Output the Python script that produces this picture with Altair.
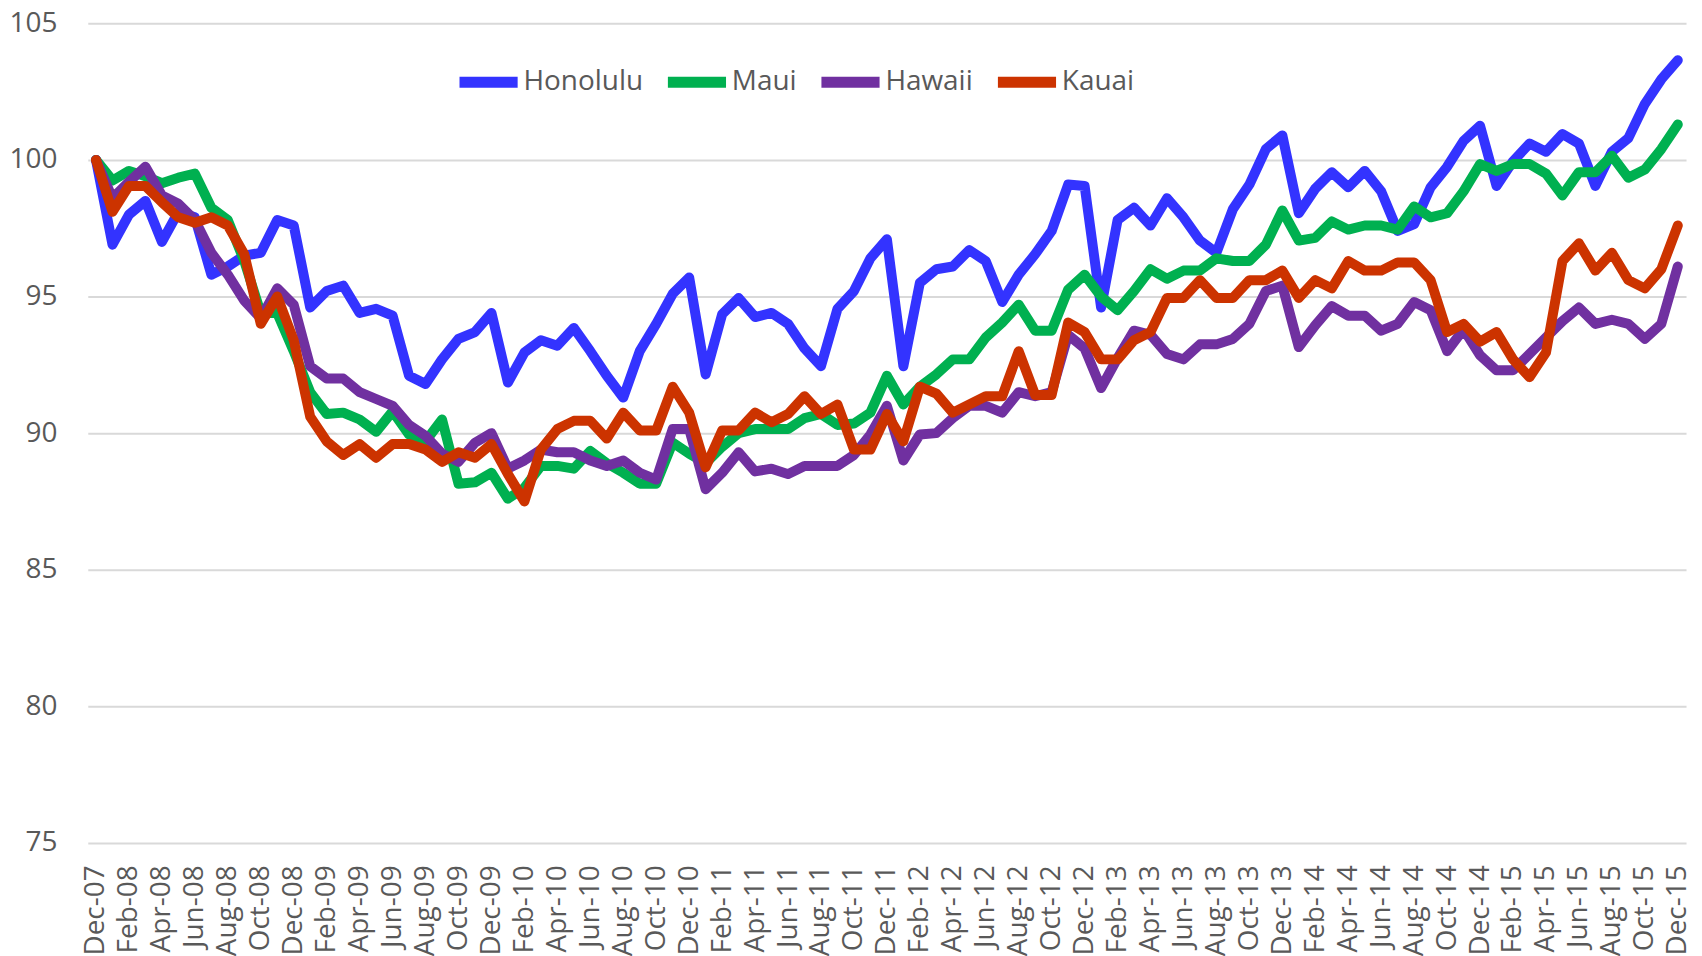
import altair as alt
import pandas as pd

months = pd.date_range("2007-12-01", "2015-12-01", freq="MS").strftime("%b-%y").tolist()

series_names = ["Honolulu", "Maui", "Hawaii", "Kauai"]
series_colors = ["#3333FF", "#00B050", "#7030A0", "#CC3300"]

honolulu = [100.0, 96.9, 98.0, 98.5, 97.0, 98.1, 97.9, 95.8, 96.1, 96.5,
            96.6, 97.8, 97.6, 94.6, 95.2, 95.4, 94.4, 94.55, 94.3, 92.1,
            91.8, 92.7, 93.45, 93.7, 94.4, 91.85, 92.95, 93.4, 93.2, 93.85,
            93.0, 92.1, 91.3, 93.0, 94.0, 95.1, 95.7, 92.15, 94.35, 94.95,
            94.25, 94.4, 94.0, 93.1, 92.45, 94.55, 95.2, 96.4, 97.1, 92.45,
            95.5, 96.0, 96.1, 96.7, 96.3, 94.8, 95.8, 96.55, 97.4, 99.1,
            99.05, 94.6, 97.8, 98.25, 97.6, 98.6, 97.9, 97.05, 96.6, 98.2,
            99.1, 100.4, 100.9, 98.05, 98.95, 99.55, 99.0, 99.6, 98.85, 97.4,
            97.65, 99.0, 99.75, 100.7, 101.25, 99.05, 99.95, 100.6, 100.3, 100.95,
            100.6, 99.05, 100.3, 100.8, 102.05, 102.95, 103.65]

maui = [100.0, 99.25, 99.6, 99.4, 99.15, 99.35, 99.5, 98.25, 97.8, 96.3,
        94.4, 94.4, 93.0, 91.5, 90.7, 90.75, 90.5, 90.05, 90.8, 89.95,
        89.7, 90.5, 88.15, 88.2, 88.55, 87.6, 88.0, 88.8, 88.8, 88.7,
        89.35, 88.9, 88.55, 88.15, 88.15, 89.65, 89.25, 88.9, 89.5, 90.0,
        90.15, 90.15, 90.15, 90.55, 90.7, 90.3, 90.35, 90.75, 92.1, 91.05,
        91.7, 92.15, 92.7, 92.7, 93.5, 94.05, 94.7, 93.75, 93.75, 95.25,
        95.8, 95.0, 94.5, 95.2, 96.0, 95.65, 95.95, 95.95, 96.4, 96.3,
        96.3, 96.9, 98.15, 97.05, 97.15, 97.75, 97.45, 97.6, 97.6, 97.45,
        98.3, 97.9, 98.05, 98.85, 99.85, 99.6, 99.85, 99.85, 99.5, 98.7,
        99.55, 99.55, 100.15, 99.35, 99.65, 100.4, 101.3]

hawaii = [100.0, 98.6, 99.2, 99.75, 98.7, 98.4, 97.8, 96.6, 95.8, 94.85,
          94.2, 95.3, 94.7, 92.45, 92.0, 92.0, 91.5, 91.25, 91.0, 90.3,
          89.9, 89.25, 88.95, 89.65, 90.0, 88.7, 89.0, 89.4, 89.3, 89.3,
          89.0, 88.8, 89.0, 88.55, 88.3, 90.15, 90.15, 87.95, 88.55, 89.3,
          88.6, 88.7, 88.5, 88.8, 88.8, 88.8, 89.2, 89.95, 91.0, 89.0,
          89.95, 90.0, 90.55, 91.0, 91.0, 90.75, 91.5, 91.35, 91.5, 93.6,
          93.1, 91.65, 92.75, 93.75, 93.6, 92.9, 92.7, 93.25, 93.25, 93.45,
          94.0, 95.2, 95.4, 93.15, 93.95, 94.65, 94.3, 94.3, 93.75, 94.0,
          94.8, 94.5, 93.0, 93.8, 92.85, 92.3, 92.3, 92.9, 93.5, 94.1,
          94.6, 94.0, 94.15, 94.0, 93.45, 94.0, 96.1]

kauai = [100.0, 98.1, 99.05, 99.05, 98.45, 97.9, 97.7, 97.9, 97.6, 96.55,
         94.0, 95.0, 93.4, 90.6, 89.7, 89.2, 89.6, 89.1, 89.6, 89.6,
         89.4, 88.95, 89.3, 89.1, 89.6, 88.5, 87.5, 89.4, 90.15, 90.45,
         90.45, 89.8, 90.75, 90.1, 90.1, 91.7, 90.75, 88.75, 90.1, 90.1,
         90.75, 90.4, 90.7, 91.35, 90.7, 91.05, 89.4, 89.4, 90.7, 89.7,
         91.7, 91.45, 90.75, 91.05, 91.35, 91.35, 93.0, 91.4, 91.4, 94.05,
         93.7, 92.7, 92.7, 93.4, 93.7, 94.95, 94.95, 95.6, 94.95, 94.95,
         95.6, 95.6, 95.95, 94.95, 95.6, 95.3, 96.3, 95.95, 95.95, 96.25,
         96.25, 95.6, 93.7, 94.0, 93.35, 93.7, 92.7, 92.05, 92.95, 96.3,
         96.95, 95.95, 96.6, 95.6, 95.3, 96.0, 97.6]

y_ticks = [75, 80, 85, 90, 95, 100, 105]

values_by_series = [honolulu, maui, hawaii, kauai]
rows = []
for name, vals in zip(series_names, values_by_series):
    for i, (m, v) in enumerate(zip(months, vals)):
        rows.append({"month": m, "idx": i, "series": name, "value": v})
df = pd.DataFrame(rows)

label_font = "Open Sans"
label_color = "#595959"

x_enc = alt.X(
    "month:N",
    sort=months,
    scale=alt.Scale(type="point", padding=0.5),
    axis=alt.Axis(
        values=months[::2], title=None, labelAngle=-90, domain=False, ticks=False,
        grid=False, labelFont=label_font, labelFontSize=28, labelColor=label_color,
        labelPadding=22, labelOverlap=False,
    ),
)
y_enc = alt.Y(
    "value:Q",
    scale=alt.Scale(domain=[75, 105], nice=False, zero=False),
    axis=alt.Axis(
        values=y_ticks, title=None, domain=False, ticks=False, gridColor="#d9d9d9",
        gridWidth=2, labelFont=label_font, labelFontSize=28, labelColor=label_color,
        labelPadding=31,
    ),
)
color_enc = alt.Color(
    "series:N",
    scale=alt.Scale(domain=series_names, range=series_colors),
    legend=alt.Legend(
        orient="none", legendX=360, legendY=24, direction="horizontal", columns=4,
        title=None, symbolType="stroke", symbolStrokeWidth=11, symbolSize=3400,
        symbolOffset=7, labelFont=label_font, labelFontSize=28, labelColor=label_color,
        columnPadding=2, labelOffset=0,
    ),
)

layers = []
for name in series_names:
    layers.append(
        alt.Chart(df)
        .transform_filter(alt.datum.series == name)
        .mark_line(strokeWidth=10, strokeJoin="round", strokeCap="round")
        .encode(x=x_enc, y=y_enc, color=color_enc, order="idx:Q")
    )

chart = (
    alt.layer(*layers)
    .properties(
        width=1603, height=822, autosize="none",
        padding={"left": 80, "top": 14, "right": 8, "bottom": 112},
        background="white",
    )
    .configure_view(stroke=None)
)

chart.save("out.html", embed_options={"renderer": "svg", "actions": False})
